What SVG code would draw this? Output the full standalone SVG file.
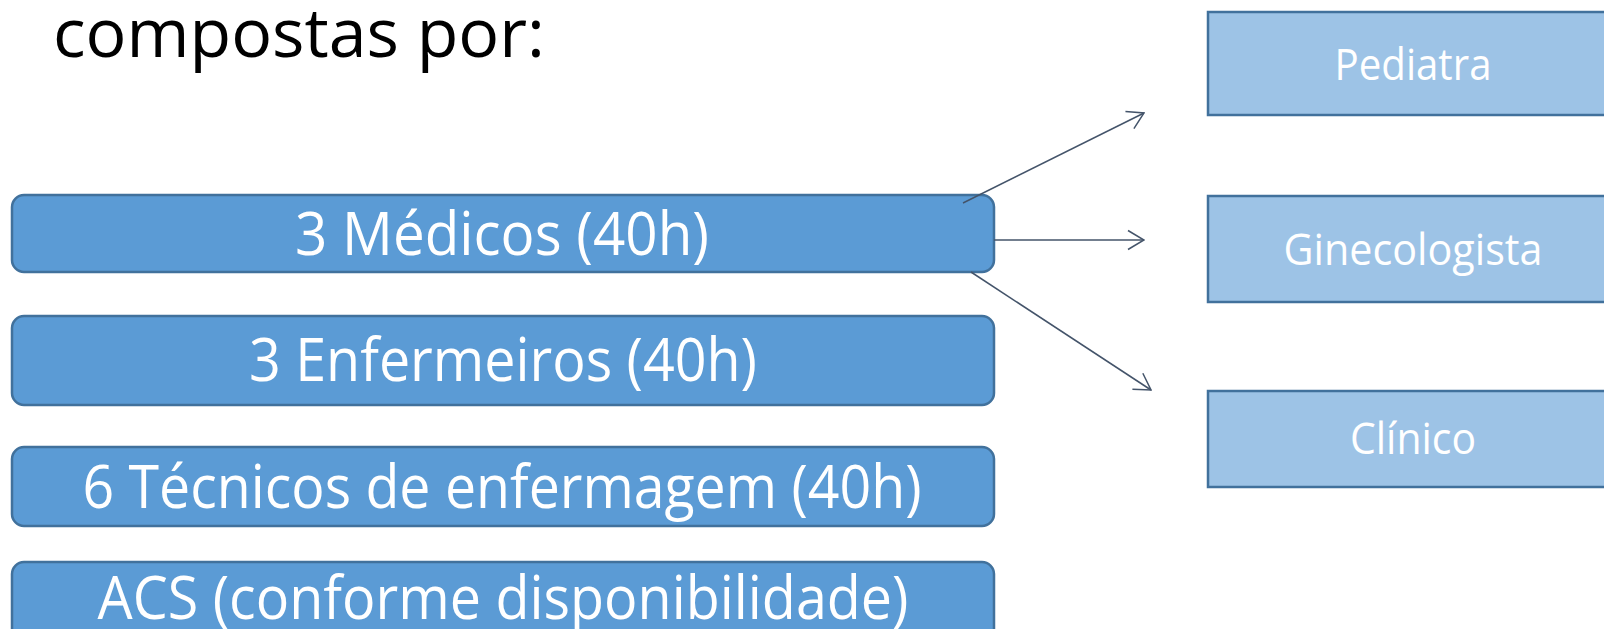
<svg xmlns="http://www.w3.org/2000/svg" width="1604" height="629" viewBox="0 0 1604 629">
<style>
  text { font-family: "Open Sans", "Noto Sans", "Liberation Sans", sans-serif; }
  .title { font-size: 67px; fill: #000; }
  .main rect { fill: #5B9BD5; stroke: #41719C; stroke-width: 2.5; }
  .main text { font-size: 60px; fill: #fff; text-anchor: middle; }
  .sub rect { fill: #9DC3E6; stroke: #41719C; stroke-width: 2.5; }
  .sub text { font-size: 44px; fill: #fff; text-anchor: middle; }
  .conn line { stroke: #44546A; stroke-width: 1.5; fill: none; marker-end: url(#open); }
</style>
<defs>
  <marker id="open" viewBox="0 0 18 22" refX="17" refY="11" markerWidth="18" markerHeight="22" markerUnits="userSpaceOnUse" orient="auto">
    <path d="M1,1.5 L17,11 L1,20.5" fill="none" stroke="#44546A" stroke-width="1.5"/>
  </marker>
</defs>
<rect width="1604" height="629" fill="#fff"/>
<text class="title" x="53" y="57" textLength="492" lengthAdjust="spacingAndGlyphs">compostas por:</text>

<g id="medicos" class="main">
  <rect x="12" y="195" width="982" height="77" rx="12"/>
  <text x="502" y="255" textLength="414" lengthAdjust="spacingAndGlyphs">3 Médicos (40h)</text>
</g>
<g id="enfermeiros" class="main">
  <rect x="12" y="316" width="982" height="89" rx="12"/>
  <text x="503" y="381" textLength="508" lengthAdjust="spacingAndGlyphs">3 Enfermeiros (40h)</text>
</g>
<g id="tecnicos" class="main">
  <rect x="12" y="447" width="982" height="79" rx="12"/>
  <text x="502" y="508" textLength="839" lengthAdjust="spacingAndGlyphs">6 Técnicos de enfermagem (40h)</text>
</g>
<g id="acs" class="main">
  <rect x="12" y="562" width="982" height="90" rx="12"/>
  <text x="503" y="619" textLength="811" lengthAdjust="spacingAndGlyphs">ACS (conforme disponibilidade)</text>
</g>

<g id="pediatra" class="sub">
  <rect x="1208" y="12" width="420" height="103"/>
  <text x="1413" y="80" textLength="157" lengthAdjust="spacingAndGlyphs">Pediatra</text>
</g>
<g id="ginecologista" class="sub">
  <rect x="1208" y="196" width="420" height="106"/>
  <text x="1413" y="265" textLength="259" lengthAdjust="spacingAndGlyphs">Ginecologista</text>
</g>
<g id="clinico" class="sub">
  <rect x="1208" y="391" width="420" height="96"/>
  <text x="1413" y="454" textLength="126" lengthAdjust="spacingAndGlyphs">Clínico</text>
</g>

<g id="connectors" class="conn">
  <line x1="963" y1="203" x2="1144" y2="113"/>
  <line x1="994" y1="240" x2="1144" y2="240"/>
  <line x1="971" y1="272" x2="1151" y2="390"/>
</g>
</svg>
